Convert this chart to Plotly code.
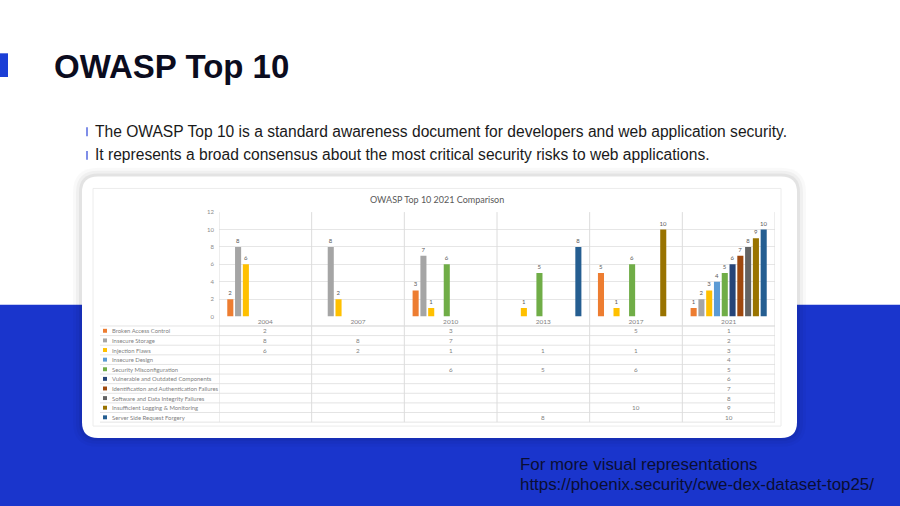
import plotly.graph_objects as go

# ---------------- data ----------------
years = ["2004", "2007", "2010", "2013", "2017", "2021"]
series_names = [
    "Broken Access Control",
    "Insecure Storage",
    "Injection Flaws",
    "Insecure Design",
    "Security Misconfiguration",
    "Vulnerable and Outdated Components",
    "Identification and Authentication Failures",
    "Software and Data Integrity Failures",
    "Insufficient Logging & Monitoring",
    "Server Side Request Forgery",
]
broken_access_control = [2, None, 3, None, 5, 1]
insecure_storage = [8, 8, 7, None, None, 2]
injection_flaws = [6, 2, 1, 1, 1, 3]
insecure_design = [None, None, None, None, None, 4]
security_misconfiguration = [None, None, 6, 5, 6, 5]
vulnerable_components = [None, None, None, None, None, 6]
identification_failures = [None, None, None, None, None, 7]
integrity_failures = [None, None, None, None, None, 8]
logging_monitoring = [None, None, None, None, 10, 9]
ssrf = [None, None, None, 8, None, 10]
series_values = [
    broken_access_control, insecure_storage, injection_flaws, insecure_design,
    security_misconfiguration, vulnerable_components, identification_failures,
    integrity_failures, logging_monitoring, ssrf,
]
series_colors = ["#ED7D31", "#A5A5A5", "#FFC000", "#5B9BD5", "#70AD47",
                 "#264478", "#9E480E", "#636363", "#997300", "#255E91"]

W, H = 900, 506


def px(x):
    return x / W


def py(y):
    return 1 - y / H


def rounded_rect(x0, y0, x1, y1, r):
    X0, X1 = px(x0), px(x1)
    Y0, Y1 = py(y0), py(y1)
    rx, ry = r / W, r / H
    return (f"M {X0+rx} {Y0} L {X1-rx} {Y0} Q {X1} {Y0} {X1} {Y0-ry} "
            f"L {X1} {Y1+ry} Q {X1} {Y1} {X1-rx} {Y1} "
            f"L {X0+rx} {Y1} Q {X0} {Y1} {X0} {Y1+ry} "
            f"L {X0} {Y0-ry} Q {X0} {Y0} {X0+rx} {Y0} Z")


fig = go.Figure()
for name, vals, col in zip(series_names, series_values, series_colors):
    fig.add_trace(go.Bar(
        x=years, y=vals, name=name, marker_color=col, marker_line_width=0,
        text=[("" if v is None else str(v)) for v in vals],
        textposition="outside", textfont=dict(size=6, color="#595959", family="Lato"),
        constraintext="none", cliponaxis=False,
    ))

shapes = []
# blue lower background
shapes.append(dict(type="rect", xref="paper", yref="paper", x0=-0.02, x1=1.02, y0=-0.05, y1=py(305),
                   fillcolor="#1a35cc", line_width=0, layer="below"))
# small blue marker near title
shapes.append(dict(type="rect", xref="paper", yref="paper", x0=-0.01, x1=px(8), y0=py(74), y1=py(50),
                   fillcolor="#1b3fd6", line_width=0, layer="below"))
# bullet bars
for yc in (129, 153):
    shapes.append(dict(type="rect", xref="paper", yref="paper", x0=px(86), x1=px(88),
                       y0=py(yc + 5), y1=py(yc - 4), fillcolor="#7f8ee8", line_width=0, layer="below"))
# card shadow + card
for k, a in ((9, 0.025), (6, 0.035), (3, 0.05)):
    shapes.append(dict(type="path", xref="paper", yref="paper",
                       path=rounded_rect(82 - k, 175 - k, 797 + k, 440 + k, 16 + k),
                       fillcolor=f"rgba(0,0,0,{a})", line_width=0, layer="below"))
shapes.append(dict(type="path", xref="paper", yref="paper", path=rounded_rect(82, 175, 797, 440, 16),
                   fillcolor="white", line_width=0, layer="below"))
# chart image border
shapes.append(dict(type="rect", xref="paper", yref="paper", x0=px(93), x1=px(781), y0=py(428), y1=py(187),
                   fillcolor="white", line=dict(color="#ececec", width=1), layer="below"))

# table rows
row_top = 326.5
row_h = 9.75
table_left, table_right = 100, 775
shapes.append(dict(type="line", xref="paper", yref="paper", x0=px(219), x1=px(table_right),
                   y0=py(row_top), y1=py(row_top), line=dict(color="#dcdcdc", width=1), layer="above"))
for i in range(len(series_names) + 1):
    yline = row_top + i * row_h
    shapes.append(dict(type="line", xref="paper", yref="paper", x0=px(table_left), x1=px(table_right),
                       y0=py(yline), y1=py(yline), line=dict(color="#e4e4e4", width=1), layer="above"))
table_bottom = row_top + len(series_names) * row_h
# vertical category boundaries
for i in range(len(years) + 1):
    shapes.append(dict(type="line", xref="x", yref="paper", x0=i - 0.5, x1=i - 0.5,
                       y0=py(table_bottom), y1=py(211), line=dict(color="#dcdcdc", width=1), layer="above"))

annotations = []
# slide title
annotations.append(dict(text="<b>OWASP Top 10</b>", x=px(52), y=py(63), xref="paper", yref="paper",
                        xanchor="left", yanchor="middle", showarrow=False,
                        font=dict(size=33, color="#0b0c1e", family="Liberation Sans")))
for txt, yc in (("The OWASP Top 10 is a standard awareness document for developers and web application security.", 129),
                ("It represents a broad consensus about the most critical security risks to web applications.", 153)):
    annotations.append(dict(text=txt, x=px(93), y=py(yc), xref="paper", yref="paper",
                            xanchor="left", yanchor="middle", showarrow=False,
                            font=dict(size=15.6, color="#1a1a1a", family="Liberation Sans")))
for txt, yc in (("For more visual representations", 467),
                ("https://phoenix.security/cwe-dex-dataset-top25/", 487)):
    annotations.append(dict(text=txt, x=px(518), y=py(yc), xref="paper", yref="paper",
                            xanchor="left", yanchor="middle", showarrow=False,
                            font=dict(size=16.9, color="#0a0e33", family="Liberation Sans")))
# chart title
annotations.append(dict(text="OWASP Top 10 2021 Comparison", x=px(437), y=py(198), xref="paper", yref="paper",
                        xanchor="center", yanchor="middle", showarrow=False,
                        font=dict(size=9, color="#595959", family="Lato")))
# table left column and values
for i, (name, vals, col) in enumerate(zip(series_names, series_values, series_colors)):
    yc = row_top + (i + 0.5) * row_h
    shapes.append(dict(type="rect", xref="paper", yref="paper", x0=px(103), x1=px(107),
                       y0=py(yc + 2), y1=py(yc - 2), fillcolor=col, line_width=0, layer="above"))
    annotations.append(dict(text=name, x=px(109.5), y=py(yc), xref="paper", yref="paper",
                            xanchor="left", yanchor="middle", showarrow=False,
                            font=dict(size=5.9, color="#7f7f7f", family="Lato")))
    for j, v in enumerate(vals):
        if v is not None:
            annotations.append(dict(text=str(v), x=j, y=py(yc), xref="x", yref="paper",
                                    xanchor="center", yanchor="middle", showarrow=False,
                                    font=dict(size=6.3, color="#7f7f7f", family="Lato")))

fig.update_layout(
    width=W, height=H, margin=dict(l=0, r=0, t=0, b=0),
    paper_bgcolor="white", plot_bgcolor="#f7f7f7",
    barmode="group", bargap=0.16, bargroupgap=0.22,
    showlegend=False,
    shapes=shapes, annotations=annotations,
    xaxis=dict(domain=[px(219), px(775)], type="category", range=[-0.5, len(years) - 0.5],
               showgrid=False, showline=False,
               ticks="", tickfont=dict(size=6.5, color="#7f7f7f", family="Lato"), fixedrange=True),
    yaxis=dict(domain=[py(317), py(211)], range=[0, 12], dtick=2, showgrid=True, gridcolor="#e6e6e6",
               zeroline=False, showline=False, ticks="", ticklabelstandoff=4,
               tickfont=dict(size=6, color="#8c8c8c", family="Lato"), fixedrange=True),
)

fig.write_html(
    "out.html",
    post_script=("document.body.style.margin='0';document.body.style.overflow='hidden';"
                 "document.body.style.background='#1a35cc';"
                 "var d=document.getElementById('{plot_id}');d.style.position='fixed';"
                 "d.style.left='0';d.style.top='0';"),
)
